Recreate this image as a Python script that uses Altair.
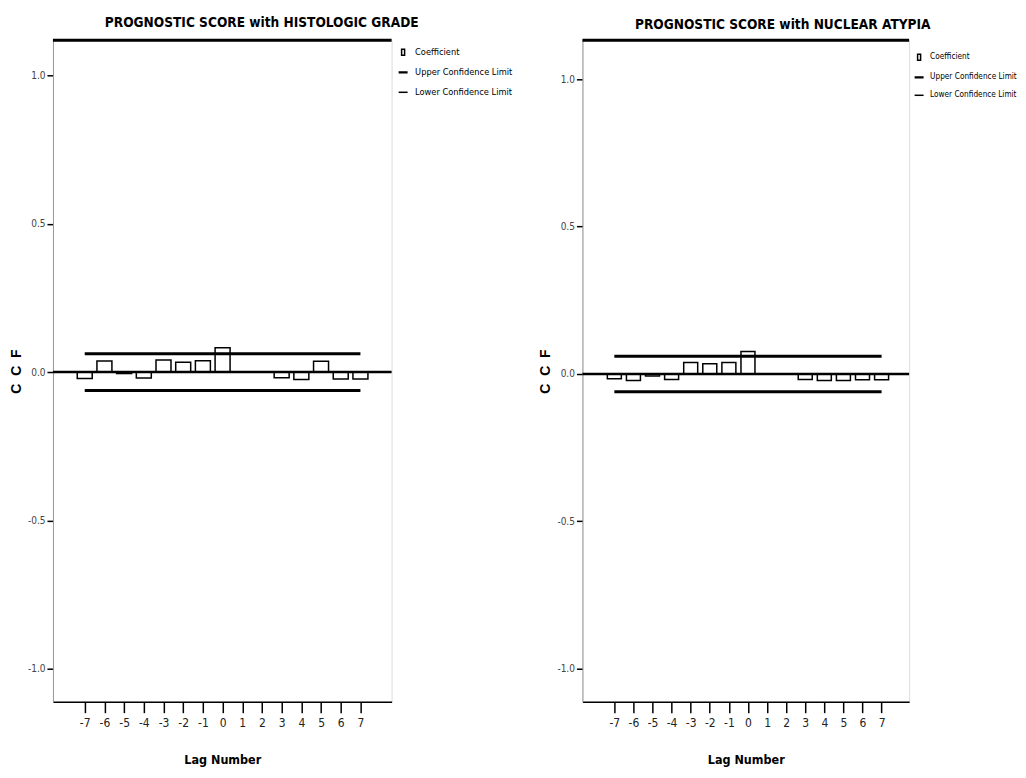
import altair as alt
import pandas as pd

# ---- data ----
lags = list(range(-7, 8))
hist_ccf = [-0.022, 0.037, -0.005, -0.020, 0.041, 0.033, 0.038, 0.082, 0.0, 0.0,
            -0.019, -0.025, 0.036, -0.023, -0.023]
nuc_ccf = [-0.016, -0.022, -0.007, -0.019, 0.039, 0.035, 0.039, 0.076, 0.0, 0.0,
           -0.019, -0.022, -0.022, -0.020, -0.020]
hist_ci = 0.062
nuc_ci = 0.060
titles = ["PROGNOSTIC SCORE with HISTOLOGIC GRADE", "PROGNOSTIC SCORE with NUCLEAR ATYPIA"]
legend_items = ["Coefficient", "Upper Confidence Limit", "Lower Confidence Limit"]
y_ticks = [-1.0, -0.5, 0.0, 0.5, 1.0]

NARROW = "'DejaVu Sans Condensed', 'Liberation Sans Narrow', sans-serif"
BOLDF = "'Liberation Sans', Arial, sans-serif"
RECT = "M-0.15,-0.3H0.15V0.3H-0.15Z"
THICK = "M-0.45,-0.035H0.45M-0.45,0H0.45M-0.45,0.035H0.45"
THIN = "M-0.45,0H0.45"


def panel(values, ci, title, width, height, xdom, ydom, bar_size,
          title_dx, title_offset, legend_x, legend_y, legend_font, legend_off):
    bars_df = pd.DataFrame({"lag": lags, "ccf": values})
    ci_df = pd.DataFrame({
        "series": ["Upper Confidence Limit", "Lower Confidence Limit"],
        "start": [lags[0], lags[0]],
        "end": [lags[-1], lags[-1]],
        "ccf": [ci, -ci],
    })
    zero_df = pd.DataFrame({"ccf": [0.0]})
    legend_df = pd.DataFrame({"series": legend_items})

    x_scale = alt.Scale(domain=xdom, nice=False, zero=False)
    y_scale = alt.Scale(domain=ydom, nice=False, zero=False)
    x_axis = alt.Axis(
        values=lags, title="Lag Number", grid=False,
        labelExpr="datum.value < 0 ? '-' + format(-datum.value, 'd') : format(datum.value, 'd')",
        domainColor="black", domainWidth=1.5, tickColor="black", tickWidth=1.5,
        tickSize=11, labelFont=NARROW, labelFontSize=12, labelColor="#222",
        labelPadding=5, labelFlush=False, titleFont=NARROW, titleFontSize=12.5,
        titleFontWeight="bold", titleColor="black", titlePadding=25,
    )
    y_axis = alt.Axis(
        values=y_ticks, title="C\u00a0\u00a0C\u00a0\u00a0F", grid=False,
        labelExpr="datum.value < 0 ? '-' + format(-datum.value, '.1f') : format(datum.value, '.1f')",
        domainColor="#999", domainWidth=1, tickColor="black", tickWidth=1.5,
        tickSize=6, labelFont=NARROW, labelFontSize=10, labelColor="#444",
        labelPadding=2, labelFlush=False, titleFont=BOLDF, titleFontSize=14,
        titleFontWeight="bold", titleColor="black", titlePadding=4,
    )
    x_enc = alt.X("lag:Q", scale=x_scale, axis=x_axis)
    y_enc = alt.Y("ccf:Q", scale=y_scale, axis=y_axis)

    bars = alt.Chart(bars_df).mark_bar(
        fill="white", stroke="black", strokeWidth=1.5, size=bar_size
    ).encode(x=x_enc, y=y_enc, y2=alt.datum(0))

    ci_lines = alt.Chart(ci_df).mark_rule(color="black", strokeWidth=3).encode(
        x=alt.X("start:Q", scale=x_scale, axis=x_axis),
        x2="end:Q",
        y=y_enc,
    )

    zero = alt.Chart(zero_df).mark_rule(color="black", strokeWidth=2.5).encode(y=y_enc)

    top_frame = alt.Chart(zero_df).mark_rule(color="black", strokeWidth=3).encode(
        y=alt.value(0)
    )

    legend = alt.Chart(legend_df).mark_point(
        opacity=0, filled=False, color="black"
    ).encode(
        shape=alt.Shape(
            "series:N",
            scale=alt.Scale(domain=legend_items, range=[RECT, THICK, THIN]),
            legend=alt.Legend(
                title=None, orient="none", legendX=legend_x, legendY=legend_y,
                symbolSize=400, symbolStrokeColor="black", symbolFillColor="white",
                symbolStrokeWidth=1.5, symbolOpacity=1, labelFont=NARROW,
                labelFontSize=legend_font, labelColor="black", labelOffset=legend_off,
                rowPadding=3, padding=0,
            ),
        )
    )

    return alt.layer(bars, ci_lines, zero, top_frame, legend).properties(
        width=width,
        height=height,
        title=alt.TitleParams(
            text=title, font=NARROW, fontSize=13.6, fontWeight="bold", color="black",
            anchor="middle", frame="group", dx=title_dx, offset=title_offset,
        ),
    )


left = panel(hist_ccf, hist_ci, titles[0], 339, 662, [-8.36, 8.33], [-1.111, 1.118],
             15, 39.5, 9, 339.5, 1, 9.2, 1)
right = panel(nuc_ccf, nuc_ci, titles[1], 327, 662, [-8.41, 8.18], [-1.112, 1.132],
              14, 37, 7, 326, 6, 8.2, 0)

chart = alt.hconcat(left, right, spacing=24).resolve_scale(
    x="independent", y="independent", shape="independent"
).resolve_legend(shape="independent").properties(
    padding={"left": 0, "top": 7, "right": 0, "bottom": 0}
).configure_view(stroke="#999", strokeWidth=1).configure(background="white")

chart.save("out.html", embed_options={"renderer": "svg", "actions": False})
